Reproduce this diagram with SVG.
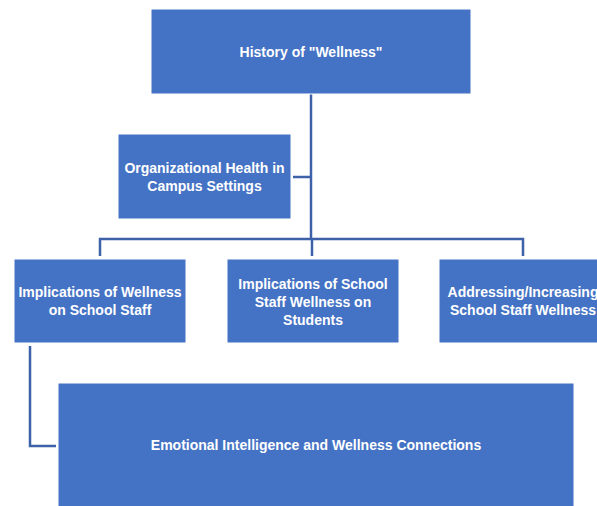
<svg xmlns="http://www.w3.org/2000/svg" width="597" height="506" viewBox="0 0 597 506">
  <style>
    .box { fill: #4472C4; stroke: #FFFFFF; stroke-width: 1; }
    .lbl { fill: #FFFFFF; font-family: "Liberation Sans", Arial, sans-serif; font-weight: bold; font-size: 14px; text-anchor: middle; }
    .conn { fill: none; stroke: #3D62A8; stroke-width: 2.5; }
  </style>
  <rect width="597" height="506" fill="#FFFFFF"/>

  <!-- connectors -->
  <g id="connectors">
    <path class="conn" d="M311,94 V239"/>
    <path class="conn" d="M293,177 H311"/>
    <path class="conn" d="M100,256 V239 H523 V256"/>
    <path class="conn" d="M312,239 V256"/>
    <path class="conn" d="M30,346 V446 H56"/>
  </g>

  <g id="history">
    <rect class="box" x="151" y="9" width="320" height="85"/>
    <text class="lbl" x="311" y="57">History of "Wellness"</text>
  </g>

  <g id="org-health">
    <rect class="box" x="118" y="134" width="173" height="85"/>
    <text class="lbl" x="204.5" y="173">Organizational Health in</text>
    <text class="lbl" x="204.5" y="191">Campus Settings</text>
  </g>

  <g id="impl-staff">
    <rect class="box" x="14" y="259" width="172" height="84"/>
    <text class="lbl" x="100" y="297">Implications of Wellness</text>
    <text class="lbl" x="100" y="315">on School Staff</text>
  </g>

  <g id="impl-students">
    <rect class="box" x="227" y="259" width="172" height="84"/>
    <text class="lbl" x="313" y="289">Implications of School</text>
    <text class="lbl" x="313" y="307">Staff Wellness on</text>
    <text class="lbl" x="313" y="325">Students</text>
  </g>

  <g id="addressing">
    <rect class="box" x="439" y="259" width="172" height="84"/>
    <text class="lbl" x="523" y="297">Addressing/Increasing</text>
    <text class="lbl" x="523" y="315">School Staff Wellness</text>
  </g>

  <g id="emotional">
    <rect class="box" x="58" y="383" width="516" height="130"/>
    <text class="lbl" x="316" y="450">Emotional Intelligence and Wellness Connections</text>
  </g>
</svg>
